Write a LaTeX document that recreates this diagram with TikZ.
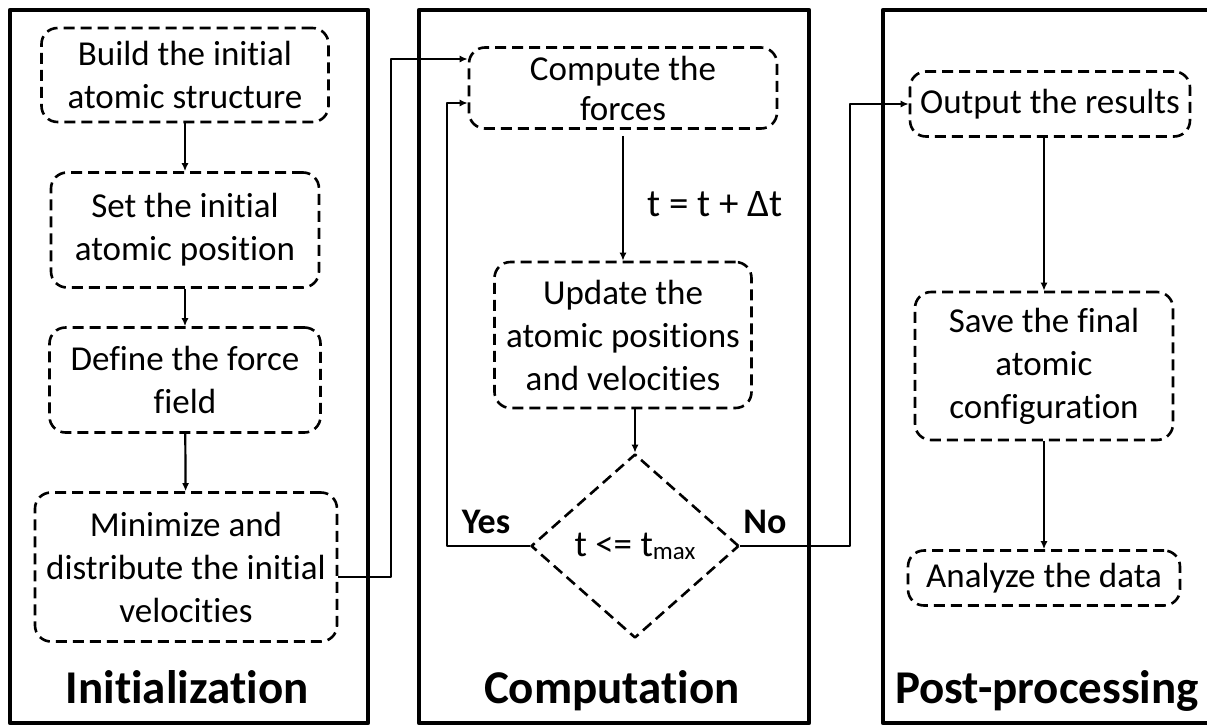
\documentclass[tikz,border=0pt]{standalone}
\usepackage{fontspec}
\setmainfont{Carlito}[Ligatures={NoCommon,NoContextual}]
\usetikzlibrary{shapes.geometric,arrows.meta}

\begin{document}
\begin{tikzpicture}[x=1pt,y=-1pt,line join=round,>={Latex[length=8pt,width=7pt]},
  stage/.style={draw,line width=4.5pt},
  task/.style={draw,dash pattern=on 11pt off 6pt,line width=2.6pt,rounded corners=16pt,
    align=center,inner sep=2pt,font=\fontsize{35}{43}\selectfont},
  check/.style={draw,diamond,dash pattern=on 11pt off 6pt,line width=2.6pt,inner sep=0pt,
    font=\fontsize{37}{44}\selectfont},
  link/.style={line width=2.2pt,->},
  title/.style={anchor=base,font=\fontsize{47}{50}\selectfont\bfseries},
  tag/.style={anchor=base,font=\fontsize{36}{40}\selectfont\bfseries}]
  \clip (0,0) rectangle (1207,726);
  % stage frames
  \draw[stage] (10,10) rectangle (368,723);
  \draw[stage] (419,10) rectangle (809,723);
  \draw[stage] (883,10) rectangle (1220,723);
  \node[title] (tinit) at (187,703) {Initialization};
  \node[title] (tcomp) at (612,703) {Computation};
  \node[title] (tpost) at (1047,703) {Post-processing};
  % initialization
  \node[task,minimum width=287pt,minimum height=94pt] (build) at (185,75) {Build the initial\\atomic structure};
  \node[task,minimum width=268pt,minimum height=115pt] (setpos) at (185,230) {Set the initial\\atomic position};
  \node[task,minimum width=271pt,minimum height=105pt] (field) at (185,380) {Define the force\\field};
  \node[task,minimum width=302pt,minimum height=149pt] (relax) at (186,567) {Minimize and\\distribute the initial\\velocities};
  % computation
  \node[task,minimum width=308pt,minimum height=81pt,font=\fontsize{35}{40}\selectfont] (force) at (623,88) {Compute the\\forces};
  \node[task,minimum width=257pt,minimum height=146pt] (upd) at (623,335) {Update the\\atomic positions\\and velocities};
  \node[check,minimum width=208pt,minimum height=184pt] (cond) at (635,546) {t <= t\raisebox{-3pt}{\fontsize{25}{25}\selectfont max}};
  \node[font=\fontsize{39}{44}\selectfont] (step) at (715,204) {t = t + Δt};
  \node[tag] (yes) at (486,533) {Yes};
  \node[tag] (no) at (765,533) {No};
  % post-processing
  \node[task,minimum width=280pt,minimum height=65pt] (out) at (1050,104) {Output the results};
  \node[task,minimum width=258pt,minimum height=148pt] (save) at (1044,366) {Save the final\\atomic\\configuration};
  \node[task,minimum width=272pt,minimum height=55pt] (ana) at (1044,578) {Analyze the data};
  % connectors
  \draw[link] (build) -- (setpos);
  \draw[link] (setpos) -- (field);
  \draw[link] (field) -- (relax);
  \draw[link] ([yshift=-10pt]relax.east) -- ++(53,0) |- ([yshift=29pt]force.west);
  \draw[link,shorten <=6pt] (force) -- (upd);
  \draw[link] (upd.south -| cond.north) -- (cond.north);
  \draw[link] (cond.west) -- ++(-83,0) |- ([yshift=-15pt]force.west);
  \draw[link] (cond.east) -- ++(110,0) |- (out.west);
  \draw[link] (out.south -| save.north) -- (save.north);
  \draw[link] (save) -- (ana);
\end{tikzpicture}
\end{document}
